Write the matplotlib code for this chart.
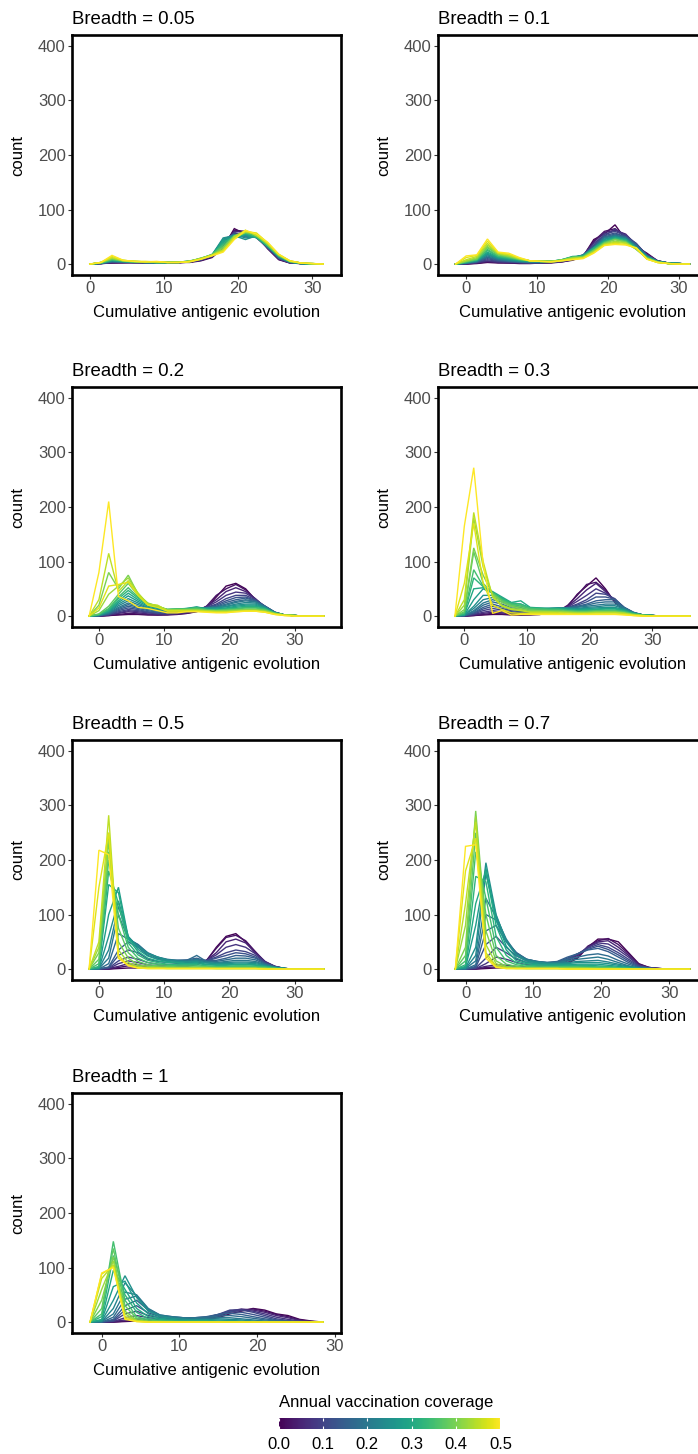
import numpy as np
import matplotlib
matplotlib.use("Agg")
import matplotlib.pyplot as plt
from matplotlib import colors
from matplotlib.colorbar import ColorbarBase

plt.rcParams['font.family'] = ['Liberation Sans', 'DejaVu Sans']

# ---------------- data ----------------
COVERAGE = [0.0, 0.025, 0.05, 0.075, 0.1, 0.125, 0.15, 0.175, 0.2, 0.225, 0.25,
            0.275, 0.3, 0.325, 0.35, 0.375, 0.4, 0.425, 0.45, 0.475, 0.5]
BREADTH = ["0.05", "0.1", "0.2", "0.3", "0.5", "0.7", "1"]
BIN_WIDTH = 1.5
FIRST_BIN = [0.0, -1.5, -1.5, -1.5, -1.5, -1.5, -1.5]

COUNTS_B005 = [
    [0,1,2,2,3,2,2,2,3,3,6,12,30,65,55,52,28,8,2,1,0,0],
    [0,1,2,3,2,3,2,2,2,4,7,13,32,62,60,48,30,9,2,1,0,0],
    [0,1,3,3,3,2,2,2,3,4,7,14,35,60,58,50,30,9,3,1,0,0],
    [0,1,3,4,3,2,3,2,3,4,8,14,40,56,55,53,31,10,3,1,0,0],
    [0,1,4,3,3,3,2,2,3,4,8,15,38,58,52,55,32,10,3,1,0,0],
    [0,1,5,3,4,3,2,3,3,5,8,16,42,52,56,50,30,11,3,1,0,0],
    [0,1,4,4,3,3,3,2,3,4,9,16,45,55,50,52,30,12,3,1,1,0],
    [0,2,5,4,4,3,3,3,3,4,9,15,46,48,52,54,34,12,4,1,0,0],
    [0,2,5,4,3,3,2,3,3,5,10,15,40,50,55,50,33,12,4,1,0,0],
    [0,2,6,4,4,3,3,3,4,5,9,16,44,54,48,50,34,13,4,1,0,0],
    [0,2,6,5,4,3,3,3,3,5,9,17,48,52,45,52,35,14,4,1,0,0],
    [0,2,7,5,4,4,3,3,3,5,10,17,45,50,52,49,33,14,4,1,0,0],
    [0,2,7,5,4,3,3,3,4,5,10,16,42,48,55,48,32,15,4,2,0,0],
    [0,2,8,5,4,4,3,3,3,5,10,17,38,52,56,52,35,15,5,2,0,0],
    [0,2,8,6,4,4,3,3,3,6,10,18,35,50,58,50,36,15,5,2,0,0],
    [0,3,9,6,5,4,3,3,4,5,11,17,32,48,60,53,35,16,5,2,0,0],
    [0,3,10,6,4,4,3,3,4,5,11,16,30,52,60,55,35,16,5,2,1,0],
    [0,3,11,7,5,4,4,3,3,5,10,16,27,48,58,56,37,17,5,2,1,0],
    [0,3,12,6,5,4,4,3,3,5,10,17,25,50,62,52,38,17,6,2,1,0],
    [0,3,14,7,5,5,4,3,3,5,9,16,24,47,60,57,39,18,6,2,1,0],
    [0,3,16,7,5,4,5,3,3,4,9,15,22,45,62,55,40,18,6,2,1,0],
]
COUNTS_B01 = [
    [0,0,1,3,2,2,1,1,2,2,4,7,14,45,55,72,45,32,20,6,2,1,0],
    [0,0,2,4,3,2,2,2,2,3,4,8,15,42,60,65,50,33,18,6,2,1,0],
    [0,1,2,5,3,3,2,2,2,3,5,8,15,40,58,62,55,35,18,5,2,1,0],
    [0,1,3,6,4,3,3,2,2,3,5,9,16,38,52,64,53,36,17,6,2,1,0],
    [0,1,3,8,5,4,3,2,3,3,5,9,16,35,55,60,52,38,16,6,2,1,0],
    [0,1,4,10,6,5,3,3,3,4,6,10,15,33,52,57,50,37,15,5,2,1,0],
    [0,2,4,12,7,5,4,3,3,4,6,12,16,32,50,55,50,36,14,5,2,1,0],
    [0,2,5,13,8,6,4,3,4,4,6,11,17,30,49,53,49,34,15,5,2,1,0],
    [0,2,5,15,9,6,5,4,4,5,6,10,17,30,48,52,48,33,15,5,2,1,0],
    [0,2,6,17,10,7,5,4,4,5,7,11,16,29,46,51,47,31,14,5,2,1,0],
    [0,3,6,18,11,8,6,5,4,5,7,12,16,28,45,50,46,30,14,5,2,1,0],
    [0,3,7,20,12,9,6,5,5,5,7,13,15,29,43,49,45,30,13,4,1,1,0],
    [0,3,7,22,13,10,7,5,5,5,8,14,15,30,42,48,45,30,12,4,1,1,0],
    [0,4,8,25,14,11,8,6,5,5,8,13,14,28,41,47,43,29,12,4,1,1,0],
    [0,4,8,27,15,12,8,6,5,5,8,13,14,26,40,46,42,28,12,4,1,1,0],
    [0,5,9,30,17,13,9,6,5,5,7,12,13,25,39,45,41,27,11,4,1,0,0],
    [0,5,10,32,18,14,9,6,5,5,7,12,13,25,38,45,40,27,11,4,1,0,0],
    [0,6,12,35,19,15,10,6,5,5,7,11,12,23,37,42,39,28,10,3,1,0,0],
    [0,8,14,38,20,17,10,6,5,5,7,10,12,22,36,40,38,28,10,3,1,0,0],
    [0,12,16,42,21,18,11,6,5,4,6,9,11,21,35,38,36,29,9,3,1,0,0],
    [0,15,17,46,22,20,12,6,5,4,6,8,10,20,34,36,35,30,9,3,1,0,0],
]
COUNTS_B02 = [
    [0,0,1,2,3,3,2,2,2,3,5,8,15,35,55,60,50,30,15,5,2,1,0,0,0],
    [0,0,1,3,5,4,3,2,3,4,5,9,18,38,50,58,48,31,15,5,2,1,0,0,0],
    [0,0,2,5,8,6,4,3,3,4,6,9,18,30,45,52,45,32,16,6,2,1,0,0,0],
    [0,0,2,6,10,8,6,4,4,5,7,10,17,26,38,44,42,31,17,6,2,1,0,0,0],
    [0,0,3,8,12,10,7,5,5,6,8,12,16,22,32,38,38,30,18,7,2,1,0,0,0],
    [0,1,3,10,15,12,8,6,6,7,9,12,16,20,28,34,35,29,18,7,2,1,0,0,0],
    [0,1,4,12,18,14,10,7,7,8,10,13,15,18,25,30,33,28,18,7,2,1,0,0,0],
    [0,1,5,14,21,16,12,9,8,9,11,14,15,17,22,27,30,27,17,7,2,1,0,0,0],
    [0,1,6,16,24,18,13,10,9,10,12,14,15,16,20,25,28,26,17,6,2,1,0,0,0],
    [0,1,7,19,28,21,15,11,10,11,13,15,15,15,18,22,25,24,16,6,2,1,0,0,0],
    [0,2,8,22,32,24,16,12,10,12,13,14,14,15,17,20,22,22,15,6,2,1,0,0,0],
    [0,2,9,25,37,27,18,14,11,12,14,17,13,13,15,18,20,20,14,6,2,1,0,0,0],
    [0,2,10,28,42,30,20,15,12,13,14,16,13,12,14,16,18,18,14,6,2,1,0,0,0],
    [0,3,12,32,47,33,21,16,12,13,13,15,12,11,13,14,16,16,13,5,2,1,0,0,0],
    [0,3,14,35,52,35,22,17,12,13,13,15,12,11,12,13,15,15,12,5,2,1,0,0,0],
    [0,4,18,40,60,38,23,18,12,12,12,13,11,10,11,12,13,13,11,5,2,1,0,0,0],
    [0,20,80,50,75,40,24,18,12,12,12,12,10,10,10,11,12,12,10,5,2,1,0,0,0],
    [0,10,40,55,70,42,22,19,11,11,11,11,10,9,9,10,11,11,9,4,2,1,0,0,0],
    [0,30,115,45,65,42,22,20,10,10,10,10,9,8,8,9,10,10,8,4,2,1,0,0,0],
    [0,15,55,58,62,38,20,16,9,9,9,9,8,7,7,8,9,9,7,3,1,0,0,0,0],
    [0,80,210,36,28,16,14,10,6,6,8,8,7,6,6,8,9,9,7,3,1,0,0,0,0],
]
COUNTS_B03 = [
    [0,0,1,2,3,3,2,2,2,3,5,8,18,40,55,70,50,25,10,4,2,1,0,0,0,0],
    [0,0,1,3,5,4,3,2,3,3,5,9,20,38,58,62,48,26,11,4,2,1,0,0,0,0],
    [0,0,2,5,7,6,4,3,3,4,6,10,18,32,48,60,45,28,12,5,2,1,0,0,0,0],
    [0,0,3,7,10,8,6,4,4,5,7,11,17,27,38,50,42,30,14,5,2,1,0,0,0,0],
    [0,0,4,10,14,11,8,6,5,6,8,12,16,22,30,42,40,32,15,6,2,1,0,0,0,0],
    [0,1,5,13,18,14,10,8,7,8,9,13,15,20,26,35,35,31,16,6,2,1,0,0,0,0],
    [0,1,6,16,22,17,12,9,8,9,10,13,15,18,22,28,30,30,16,7,2,1,0,0,0,0],
    [0,1,8,20,26,22,15,12,10,11,12,14,15,17,20,24,26,26,15,6,2,1,0,0,0,0],
    [0,1,10,24,30,26,18,14,12,12,13,14,15,16,18,20,22,22,15,6,2,1,0,0,0,0],
    [0,2,14,30,34,30,20,16,13,13,14,15,14,14,16,17,19,19,13,6,2,1,0,0,0,0],
    [0,2,18,38,38,32,22,18,14,14,14,15,14,13,14,15,16,16,12,6,2,1,0,0,0,0],
    [0,2,30,50,42,33,24,22,15,14,14,14,13,12,13,13,14,14,11,5,2,1,0,0,0,0],
    [0,3,50,52,45,35,25,28,16,15,14,14,12,11,12,12,13,13,10,5,2,1,0,0,0,0],
    [0,4,70,54,44,32,24,22,15,14,13,13,11,10,10,11,11,11,9,4,2,1,0,0,0,0],
    [0,6,85,55,42,30,22,20,14,13,12,12,10,9,9,10,10,10,8,4,2,1,0,0,0,0],
    [0,8,118,60,42,28,20,17,12,11,10,10,9,8,8,9,9,9,7,3,1,0,0,0,0,0],
    [0,12,125,75,40,25,18,14,10,10,9,9,8,7,7,8,8,8,6,3,1,0,0,0,0,0],
    [0,20,180,90,38,20,14,12,8,8,8,8,7,6,6,7,7,7,5,2,1,0,0,0,0,0],
    [0,30,190,100,35,18,12,10,7,7,7,6,6,5,5,6,6,6,5,2,1,0,0,0,0,0],
    [0,60,170,60,20,12,6,5,5,5,5,5,4,4,4,4,4,4,3,1,0,0,0,0,0,0],
    [0,165,272,95,5,10,2,3,3,3,3,3,3,3,3,3,3,3,2,1,0,0,0,0,0,0],
]
COUNTS_B05 = [
    [0,0,0,1,2,2,2,2,2,3,5,8,15,40,60,65,50,30,12,4,1,0,0,0,0],
    [0,0,0,3,6,5,4,3,3,4,6,10,16,38,58,62,52,32,13,4,1,0,0,0,0],
    [0,0,1,5,10,8,5,4,4,6,8,12,16,30,50,55,48,30,14,5,1,0,0,0,0],
    [0,0,1,10,15,12,8,6,6,8,10,14,16,26,40,45,40,28,13,5,1,0,0,0,0],
    [0,0,2,15,22,18,12,9,8,10,12,15,16,22,30,35,32,25,12,5,1,0,0,0,0],
    [0,0,3,25,35,30,18,14,12,13,15,18,15,20,25,30,28,22,11,4,1,0,0,0,0],
    [0,0,4,35,50,40,25,18,15,16,17,20,15,16,20,25,24,20,10,4,1,0,0,0,0],
    [0,0,10,65,55,45,28,20,17,16,16,25,14,14,17,20,20,17,9,4,1,0,0,0,0],
    [0,1,20,100,55,45,30,22,18,16,15,18,14,12,14,16,16,14,8,3,1,0,0,0,0],
    [0,1,35,115,58,42,29,22,17,15,14,16,12,11,12,13,13,12,7,3,1,0,0,0,0],
    [0,1,60,125,60,40,28,22,16,14,13,14,11,10,10,11,11,10,6,3,1,0,0,0,0],
    [0,2,100,150,58,36,24,18,14,12,11,12,9,8,8,9,9,8,5,2,1,0,0,0,0],
    [0,3,155,140,55,32,20,15,12,11,10,10,8,7,7,8,8,7,5,2,1,0,0,0,0],
    [0,5,180,120,48,26,16,12,9,8,8,8,6,5,5,6,6,5,4,2,0,0,0,0,0],
    [0,10,200,100,40,20,12,9,7,6,6,6,5,4,4,5,5,4,3,1,0,0,0,0,0],
    [0,18,215,75,30,14,8,6,5,4,4,4,4,3,3,3,3,3,2,1,0,0,0,0,0],
    [0,30,235,50,20,8,5,4,3,3,3,3,3,2,2,2,2,2,1,1,0,0,0,0,0],
    [0,40,250,35,12,5,3,3,2,2,2,2,2,1,1,1,1,1,1,0,0,0,0,0,0],
    [0,50,282,20,8,3,2,2,1,1,1,1,1,1,1,1,1,1,1,0,0,0,0,0,0],
    [0,150,250,25,7,2,1,1,1,1,1,1,1,1,1,1,1,1,0,0,0,0,0,0,0],
    [0,218,210,20,6,2,1,1,1,1,1,1,1,1,1,1,1,1,0,0,0,0,0,0,0],
]
COUNTS_B07 = [
    [0,0,0,1,2,2,2,2,2,3,5,10,20,40,55,55,50,30,10,3,1,0,0,0],
    [0,0,0,3,4,4,3,3,3,4,6,12,22,42,52,56,45,28,9,3,1,0,0,0],
    [0,0,1,5,8,7,5,4,4,6,8,15,25,40,50,52,40,25,8,3,1,0,0,0],
    [0,0,1,10,22,18,12,8,7,8,10,16,27,40,48,46,35,22,7,2,1,0,0,0],
    [0,0,2,20,40,30,18,12,10,10,12,18,28,38,45,40,30,18,6,2,1,0,0,0],
    [0,0,3,45,60,40,24,15,12,11,13,20,28,36,42,36,26,15,5,2,0,0,0,0],
    [0,0,5,70,80,50,30,18,14,12,14,22,28,35,38,32,22,12,4,2,0,0,0,0],
    [0,0,8,100,90,52,30,18,14,12,13,18,22,26,28,24,16,9,3,1,0,0,0,0],
    [0,1,15,130,95,55,28,18,14,12,12,15,18,20,22,18,12,6,2,1,0,0,0,0],
    [0,1,25,175,98,52,26,16,13,11,11,12,14,15,16,13,9,5,2,1,0,0,0,0],
    [0,2,40,195,100,50,25,15,12,10,10,10,12,12,12,10,7,4,1,0,0,0,0,0],
    [0,3,80,185,90,42,20,12,10,8,8,8,9,9,9,7,5,3,1,0,0,0,0,0],
    [0,5,120,180,80,35,15,10,8,7,7,7,7,7,6,5,3,2,1,0,0,0,0,0],
    [0,8,170,160,60,25,11,7,6,5,5,5,5,5,4,4,2,1,0,0,0,0,0,0],
    [0,15,215,130,40,15,8,5,4,4,4,4,4,3,3,3,2,1,0,0,0,0,0,0],
    [0,25,250,100,25,9,5,3,3,3,3,3,3,2,2,2,1,1,0,0,0,0,0,0],
    [0,40,290,70,15,5,3,2,2,2,2,2,2,2,1,1,1,0,0,0,0,0,0,0],
    [0,80,280,45,10,3,2,1,1,1,1,1,1,1,1,0,0,0,0,0,0,0,0,0],
    [0,120,270,30,6,2,1,1,1,1,1,1,1,1,0,0,0,0,0,0,0,0,0,0],
    [0,180,240,25,4,1,1,1,1,1,1,0,0,0,0,0,0,0,0,0,0,0,0,0],
    [0,225,228,20,3,1,1,1,1,1,1,0,0,0,0,0,0,0,0,0,0,0,0,0],
]
COUNTS_B1 = [
    [0,0,0,1,2,2,2,2,2,3,4,8,15,20,25,22,15,12,5,2,0],
    [0,0,0,2,4,3,3,2,2,3,5,10,18,22,24,20,14,10,4,1,0],
    [0,0,1,4,6,5,4,3,3,4,6,12,20,24,22,18,12,8,3,1,0],
    [0,0,1,8,12,8,6,5,5,5,7,13,21,23,20,15,9,5,2,1,0],
    [0,0,2,15,20,12,8,6,6,7,8,14,22,22,18,12,6,3,1,0,0],
    [0,0,3,22,30,17,10,8,7,8,9,14,19,18,14,9,4,2,1,0,0],
    [0,0,5,30,40,22,12,9,8,8,10,14,16,14,10,6,3,1,0,0,0],
    [0,0,9,42,48,24,13,10,8,8,9,11,12,10,7,4,2,1,0,0,0],
    [0,1,15,55,50,25,13,10,8,7,7,8,8,6,4,2,1,0,0,0,0],
    [0,1,25,72,48,22,12,8,6,5,5,6,5,4,2,1,0,0,0,0,0],
    [0,2,40,85,45,20,10,7,5,4,4,4,3,2,1,1,0,0,0,0,0],
    [0,3,65,75,35,15,7,5,3,3,3,2,2,1,1,0,0,0,0,0,0],
    [0,5,95,60,25,10,5,3,2,2,2,1,1,1,0,0,0,0,0,0,0],
    [0,10,122,50,18,6,3,2,1,1,1,1,0,0,0,0,0,0,0,0,0],
    [0,15,148,40,10,4,2,1,1,1,1,0,0,0,0,0,0,0,0,0,0],
    [0,25,135,30,7,2,1,1,0,0,0,0,0,0,0,0,0,0,0,0,0],
    [0,40,120,20,4,1,1,0,0,0,0,0,0,0,0,0,0,0,0,0,0],
    [0,60,112,15,3,1,0,0,0,0,0,0,0,0,0,0,0,0,0,0,0],
    [0,80,105,10,2,0,0,0,0,0,0,0,0,0,0,0,0,0,0,0,0],
    [0,88,102,7,1,0,0,0,0,0,0,0,0,0,0,0,0,0,0,0,0],
    [0,90,100,5,1,0,0,0,0,0,0,0,0,0,0,0,0,0,0,0,0],
]
ALL_COUNTS = [COUNTS_B005, COUNTS_B01, COUNTS_B02, COUNTS_B03,
              COUNTS_B05, COUNTS_B07, COUNTS_B1]
Y_TICKS = [0, 100, 200, 300, 400]
X_TICKS = [0, 10, 20, 30]
CBAR_TICKS = [0.0, 0.1, 0.2, 0.3, 0.4, 0.5]

# ---------------- layout ----------------
W, H = 698, 1454
fig = plt.figure(figsize=(W / 100, H / 100), dpi=100)
fig.patch.set_facecolor("white")

COL_LEFT = [72, 438]
ROW_TOP = [35, 387, 740, 1093]
AX_W, AX_H = 269, 240

cmap = plt.get_cmap("viridis")
norm = colors.Normalize(vmin=0.0, vmax=0.5)
TICK_COLOR = "#4D4D4D"

for i, (label, counts, x0) in enumerate(zip(BREADTH, ALL_COUNTS, FIRST_BIN)):
    r, c = divmod(i, 2)
    left, top = COL_LEFT[c], ROW_TOP[r]
    ax = fig.add_axes([left / W, 1 - (top + AX_H) / H, AX_W / W, AX_H / H])
    for cov, cnt in zip(COVERAGE, counts):
        x = x0 + BIN_WIDTH * np.arange(len(cnt))
        ax.plot(x, cnt, color=cmap(norm(cov)), lw=1.0, solid_joinstyle="miter")
    n = len(counts[0])
    lo = x0 - BIN_WIDTH / 2
    hi = x0 + BIN_WIDTH * (n - 1) + BIN_WIDTH / 2
    rng = hi - lo
    ax.set_xlim(lo - 0.05 * rng, hi + 0.05 * rng)
    ax.set_ylim(-20, 420)
    ax.set_xticks(X_TICKS)
    ax.set_yticks(Y_TICKS)
    for s in ax.spines.values():
        s.set_linewidth(1.9)
        s.set_color("black")
    ax.tick_params(direction="out", length=3, width=0.8, color="#333333",
                   labelsize=12, labelcolor=TICK_COLOR, pad=1.5)
    ax.set_title(f"Breadth = {label}", loc="left", fontsize=13.4, pad=8)
    ax.text(0.5, -(313 - 276) / AX_H, "Cumulative antigenic evolution",
            transform=ax.transAxes, ha="center", va="center", fontsize=12)
    ax.text(-(72 - 18) / AX_W, 0.5, "count", transform=ax.transAxes,
            ha="center", va="center", rotation=90, fontsize=12)

# ---------------- colorbar ----------------
cb_left, cb_top, cb_w, cb_h = 278.5, 1418, 222, 10.5
cax = fig.add_axes([cb_left / W, 1 - (cb_top + cb_h) / H, cb_w / W, cb_h / H])
cb = ColorbarBase(cax, cmap=cmap, norm=norm, orientation="horizontal",
                  ticks=CBAR_TICKS)
cb.outline.set_visible(False)
cb.set_ticklabels([f"{t:.1f}" for t in CBAR_TICKS])
cax.tick_params(axis="x", direction="in", color="white", length=2.2,
                width=0.8, labelsize=12, labelcolor="black", pad=6,
                top=True, bottom=True)
fig.text(279.3 / W, 1 - 1403 / H, "Annual vaccination coverage",
         ha="left", va="center", fontsize=12)

fig.savefig("out.png", dpi=100)
